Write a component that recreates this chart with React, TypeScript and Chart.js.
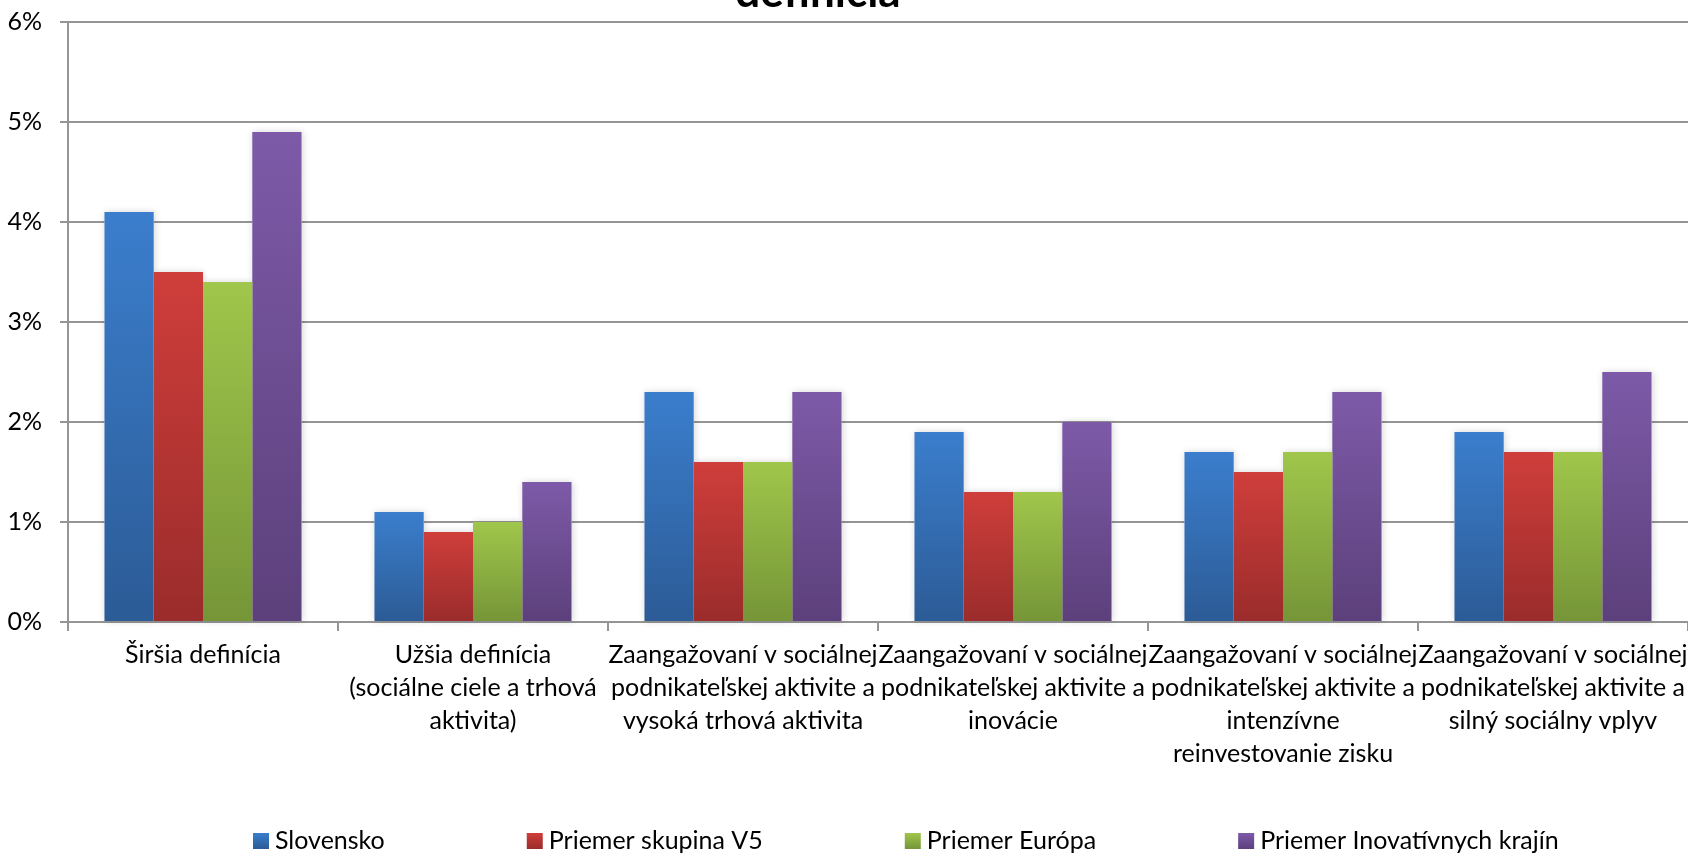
import React, { useEffect, useRef } from "react";
import { Chart, registerables } from "chart.js";

Chart.register(...registerables);

const categories: string[][] = [
  ["Širšia definícia"],
  ["Užšia definícia", "(sociálne ciele a trhová", "aktivita)"],
  ["Zaangažovaní v sociálnej", "podnikateľskej aktivite a", "vysoká trhová aktivita"],
  ["Zaangažovaní v sociálnej", "podnikateľskej aktivite a", "inovácie"],
  ["Zaangažovaní v sociálnej", "podnikateľskej aktivite a", "intenzívne", "reinvestovanie zisku"],
  ["Zaangažovaní v sociálnej", "podnikateľskej aktivite a", "silný sociálny vplyv"],
];

const slovensko = [4.1, 1.1, 2.3, 1.9, 1.7, 1.9];
const priemerV5 = [3.5, 0.9, 1.6, 1.3, 1.5, 1.7];
const priemerEuropa = [3.4, 1.0, 1.6, 1.3, 1.7, 1.7];
const priemerInovativne = [4.9, 1.4, 2.3, 2.0, 2.3, 2.5];

const seriesNames = ["Slovensko", "Priemer skupina V5", "Priemer Európa", "Priemer Inovatívnych krajín"];
const seriesTop = ["#3b7ecd", "#cf3e3b", "#a0c64b", "#7d5aa8"];
const seriesBottom = ["#2c5b96", "#9a2c2b", "#759537", "#5c407b"];

const titleText = "definícia";
const yTicks = [0, 1, 2, 3, 4, 5, 6];

const FONT = "Lato, 'Open Sans', sans-serif";
const GRID = "#959595";

function gradFill(i: number) {
  return (c: any) => {
    const chart = c.chart;
    const { chartArea, scales } = chart;
    if (!chartArea || c.type !== "data" || typeof c.raw !== "number") return seriesTop[i];
    const y = scales.y.getPixelForValue(c.raw);
    const b = scales.y.getPixelForValue(0);
    const g = chart.ctx.createLinearGradient(0, y, 0, b);
    g.addColorStop(0, seriesTop[i]);
    g.addColorStop(1, seriesBottom[i]);
    return g;
  };
}

const shadowPlugin = {
  id: "barShadow",
  beforeDatasetsDraw(chart: any) {
    const ctx = chart.ctx;
    ctx.save();
    ctx.shadowColor = "rgba(0,0,0,0.16)";
    ctx.shadowBlur = 7;
    ctx.shadowOffsetX = 1;
    ctx.shadowOffsetY = 0;
    ctx.fillStyle = "#ffffff";
    chart.data.datasets.forEach((_: any, di: number) => {
      const meta = chart.getDatasetMeta(di);
      meta.data.forEach((el: any) => {
        const p = el.getProps(["x", "y", "base", "width"], true);
        ctx.fillRect(p.x - p.width / 2, p.y, p.width, p.base - p.y);
      });
    });
    ctx.restore();
  },
};

const titlePlugin = {
  id: "cutTitle",
  afterDraw(chart: any) {
    const ctx = chart.ctx;
    ctx.save();
    ctx.font = "bold 44px " + FONT;
    ctx.fillStyle = "#000";
    ctx.textAlign = "center";
    ctx.textBaseline = "alphabetic";
    ctx.fillText(titleText, 818, 7);
    ctx.restore();
  },
};

const legendPlugin = {
  id: "customLegend",
  afterDraw(chart: any) {
    const ctx = chart.ctx;
    ctx.save();
    ctx.font = "25px " + FONT;
    ctx.textBaseline = "alphabetic";
    ctx.textAlign = "left";
    let x = 253;
    const box = 16;
    const boxTop = 833;
    chart.data.datasets.forEach((ds: any, i: number) => {
      const g = ctx.createLinearGradient(0, boxTop, 0, boxTop + box);
      g.addColorStop(0, seriesTop[i]);
      g.addColorStop(1, seriesBottom[i]);
      ctx.fillStyle = g;
      ctx.fillRect(x, boxTop, box, box);
      ctx.fillStyle = "#000";
      const tx = x + box + 6;
      ctx.fillText(ds.label, tx, 849);
      const w = ctx.measureText(ds.label).width;
      x = tx + w + 142;
    });
    ctx.restore();
  },
};

export default function App() {
  const ref = useRef<HTMLCanvasElement | null>(null);
  useEffect(() => {
    if (!ref.current) return;
    Chart.defaults.font.family = FONT;
    const values = [slovensko, priemerV5, priemerEuropa, priemerInovativne];
    const chart = new Chart(ref.current, {
      type: "bar",
      data: {
        labels: categories,
        datasets: values.map((v, i) => ({
          label: seriesNames[i],
          data: v,
          backgroundColor: gradFill(i),
          borderWidth: 0,
          categoryPercentage: 0.73,
          barPercentage: 1.0,
        })),
      },
      options: {
        animation: false,
        responsive: true,
        maintainAspectRatio: false,
        layout: { padding: { top: 22, left: 0, right: 0, bottom: 0 } },
        plugins: {
          legend: { display: false },
          title: { display: false },
          tooltip: { enabled: false },
        },
        scales: {
          x: {
            offset: true,
            grid: {
              display: true,
              drawOnChartArea: false,
              drawTicks: true,
              tickLength: 9,
              color: GRID,
              lineWidth: 2,
              offset: true,
            },
            border: { display: true, color: GRID, width: 2 },
            ticks: {
              autoSkip: false,
              maxRotation: 0,
              minRotation: 0,
              padding: 7,
              color: "#000",
              font: { size: 25, lineHeight: 1.32, family: FONT },
            },
            afterFit: (s: any) => {
              s.height = 231;
              s.paddingLeft = 0;
              s.paddingRight = 0;
            },
          },
          y: {
            min: 0,
            max: 6,
            afterBuildTicks: (s: any) => {
              s.ticks = yTicks.map((v) => ({ value: v }));
            },
            grid: {
              color: GRID,
              lineWidth: 2,
              tickLength: 8,
              drawTicks: true,
            },
            border: { display: true, color: GRID, width: 2 },
            ticks: {
              padding: 18,
              color: "#000",
              font: { size: 25, family: FONT },
              callback: (v: any) => v + "%",
            },
            afterFit: (s: any) => {
              s.width = 68;
              s.paddingTop = 0;
              s.paddingBottom = 0;
            },
          },
        },
      },
      plugins: [shadowPlugin, titlePlugin, legendPlugin],
    });
    return () => chart.destroy();
  }, []);

  return (
    <div style={{ position: "fixed", left: 0, top: 0, width: 1688, height: 853, background: "#fff" }}>
      <canvas ref={ref} />
    </div>
  );
}
